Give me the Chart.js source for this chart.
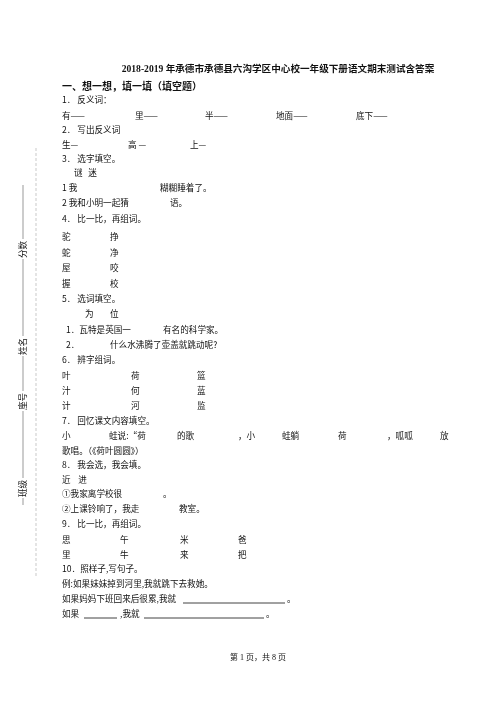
<!DOCTYPE html>
<html><head><meta charset="utf-8">
<script src="https://cdn.jsdelivr.net/npm/chart.js@4"></script>
<style>html,body{margin:0;background:#fff}#wrap{width:496px;height:702px}</style>
</head><body><div id="wrap"><canvas id="c"></canvas></div>
<script>
const title = "2018-2019 年承德市承德县六沟学区中心校一年级下册语文期末测试含答案";
const section = "一、想一想，填一填（填空题）";
// each row: baseline y, then [x, text] pieces
const rowY = [103,119,133,148,162,176,191,206,222,240,256,271,287,302,317,333,348,363,379,394,409,424,439,454,468,483,497,512,527,543,558,572,587,602,617];
const rows = [
  [[62,"1． 反义词："]],
  [[62,"有——"],[135,"里——"],[205,"半——"],[276,"地面——"],[356,"底下——"]],
  [[62,"2． 写出反义词"]],
  [[62,"生—"],[128,"高 —"],[190,"上—"]],
  [[62,"3． 选字填空。"]],
  [[74,"谜   迷"]],
  [[62,"1 我"],[160,"糊糊睡着了。"]],
  [[62,"2 我和小明一起猜"],[170,"语。"]],
  [[62,"4． 比一比，再组词。"]],
  [[62,"驼"],[110,"挣"]],
  [[62,"蛇"],[110,"净"]],
  [[62,"屋"],[110,"咬"]],
  [[62,"握"],[110,"校"]],
  [[62,"5． 选词填空。"]],
  [[85,"为"],[110,"位"]],
  [[66,"1．瓦特是英国一"],[163,"有名的科学家。"]],
  [[66,"2．"],[110,"什么水沸腾了壶盖就跳动呢?"]],
  [[62,"6． 辨字组词。"]],
  [[62,"叶"],[131,"荷"],[197,"篮"]],
  [[62,"汁"],[131,"何"],[197,"蓝"]],
  [[62,"计"],[131,"河"],[197,"监"]],
  [[62,"7． 回忆课文内容填空。"]],
  [[62,"小"],[109,"蛙说:“荷"],[177,"的歌"],[238,"，小"],[282,"蛙躺"],[338,"荷"],[387,"，呱呱"],[440,"放"]],
  [[62,"歌唱。（《荷叶圆圆》）"]],
  [[62,"8． 我会选，我会填。"]],
  [[62,"近    进"]],
  [[62,"①我家离学校很"],[163,"。"]],
  [[62,"②上课铃响了，我走"],[179,"教室。"]],
  [[62,"9． 比一比，再组词。"]],
  [[62,"思"],[120,"午"],[180,"米"],[238,"爸"]],
  [[62,"里"],[120,"牛"],[180,"来"],[238,"把"]],
  [[62,"10．照样子,写句子。"]],
  [[62,"例:如果妹妹掉到河里,我就跳下去救她。"]],
  [[62,"如果妈妈下班回来后很累,我就"],[287,"。"]],
  [[62,"如果"],[120,",我就"],[266,"。"]]
];
// underlines [row, x1, x2]
const blanks = [[33,183,285],[34,84,117],[34,144,264]];
const sideLabels = [["分数",258],["姓名",355],["座号",410],["班级",497]];
const footer = "第 1 页，共 8 页";

const page = {
  id: "page",
  afterDraw(chart) {
    const ctx = chart.ctx, sx = chart.scales.x, sy = chart.scales.y;
    const P = (x, y) => [sx.getPixelForValue(x), sy.getPixelForValue(y)];
    const F = "'Noto Sans CJK SC', sans-serif";
    ctx.save();
    ctx.fillStyle = "#111"; ctx.textBaseline = "alphabetic";
    ctx.font = "bold 9.6px 'Liberation Serif', " + F;
    ctx.textAlign = "center";
    let p = P(278, 72); ctx.fillText(title, p[0], p[1]);
    ctx.textAlign = "left";
    ctx.font = "bold 10px " + F;
    p = P(62, 90); ctx.fillText(section, p[0], p[1]);
    ctx.font = "8.6px " + F;
    rows.forEach((r, i) => r.forEach(([x, t]) => { const q = P(x, rowY[i]); ctx.fillText(t, q[0], q[1]); }));
    ctx.strokeStyle = "#111"; ctx.lineWidth = 0.8;
    blanks.forEach(([i, a, b]) => { const q1 = P(a, rowY[i] + 1), q2 = P(b, rowY[i] + 1);
      ctx.beginPath(); ctx.moveTo(q1[0], q1[1]); ctx.lineTo(q2[0], q2[1]); ctx.stroke(); });
    // binding margin
    ctx.strokeStyle = "#bbb"; ctx.setLineDash([3, 2]);
    let a = P(36, 148), b = P(36, 577);
    ctx.beginPath(); ctx.moveTo(a[0], a[1]); ctx.lineTo(b[0], b[1]); ctx.stroke();
    ctx.setLineDash([]); ctx.strokeStyle = "#555"; ctx.lineWidth = 0.6;
    a = P(23, 185); b = P(23, 505);
    ctx.beginPath(); ctx.moveTo(a[0], a[1]); ctx.lineTo(b[0], b[1]); ctx.stroke();
    ctx.fillStyle = "#111"; ctx.font = "8.6px " + F;
    sideLabels.forEach(([t, y]) => { const q = P(23, y); ctx.save(); ctx.translate(q[0], q[1]);
      ctx.rotate(-Math.PI / 2); ctx.fillStyle = "#fff"; ctx.fillRect(-1, -6, 20, 10);
      ctx.fillStyle = "#111"; ctx.fillText(t, 0, 3); ctx.restore(); });
    ctx.font = "8px 'Liberation Serif', " + F; ctx.textAlign = "center";
    p = P(258, 660); ctx.fillText(footer, p[0], p[1]);
    ctx.restore();
  }
};

new Chart(document.getElementById("c"), {
  type: "scatter",
  data: { datasets: [{ data: [] }] },
  options: {
    responsive: true, maintainAspectRatio: false, animation: false,
    layout: { padding: 0 },
    plugins: { legend: { display: false }, tooltip: { enabled: false } },
    scales: {
      x: { type: "linear", min: 0, max: 496, display: false },
      y: { type: "linear", min: 0, max: 702, reverse: true, display: false }
    }
  },
  plugins: [page]
});
</script></body></html>
